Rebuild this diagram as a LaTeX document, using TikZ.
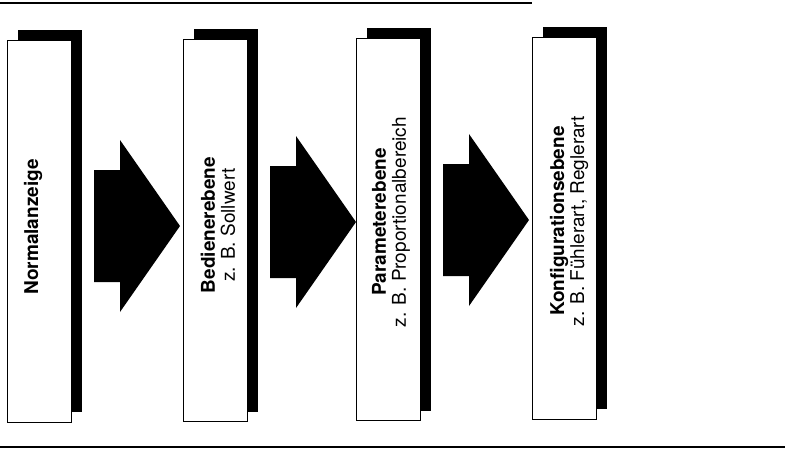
\documentclass[tikz,border=0pt]{standalone}
\usepackage{fontspec}
\setmainfont{TeX Gyre Heros}
\usetikzlibrary{backgrounds}
\begin{document}
\begin{tikzpicture}[x=1pt,y=-1pt,
  levelbox/.style={draw=black,line width=0.8pt,fill=white,minimum width=64pt,minimum height=382pt,inner sep=0pt},
  shadowfill/.style={fill=black},
  leveltext/.style={rotate=90,align=center,inner sep=0pt,font=\fontsize{19}{20}\selectfont},
  rule/.style={line width=1.5pt},
  blockarrow/.style={fill=black}]
\useasboundingbox (0,0) rectangle (785,453);
% rules
\coordinate (tl) at (0,3);
\coordinate (tr) at (532,3);
\coordinate (bl) at (0,447);
\coordinate (br) at (785,447);
\draw[rule] (tl) -- (tr);
\draw[rule] (bl) -- (br);
% boxes
\node[levelbox] (b1) at (39,231) {};
\node[levelbox] (b2) at (215,230.5) {};
\node[levelbox] (b3) at (388,229.5) {};
\node[levelbox] (b4) at (564,228) {};
\begin{scope}[on background layer]
  \foreach \b in {b1,b2,b3,b4}{
    \fill[shadowfill] ([shift={(11,-10)}]\b.south west) rectangle ([shift={(11,-10)}]\b.north east);
  }
\end{scope}
% texts
\node[leveltext] (t1) at (33,227) {\textbf{Normalanzeige}};
\node[leveltext] (t2) at (218,225) {\textbf{Bedienerebene}\\z. B. Sollwert};
\node[leveltext] (t3) at (391,222) {\textbf{Parameterebene}\\z. B. Proportionalbereich};
\node[leveltext] (t4) at (569,221) {\textbf{Konfigurationsebene}\\z. B. Fühlerart, Reglerart};
% block arrows
\foreach \x/\y in {94/226,270/222,443/220}{
  \fill[blockarrow] (\x,\y-56) -- (\x+26,\y-56) -- (\x+26,\y-86) -- (\x+86,\y)
    -- (\x+26,\y+86) -- (\x+26,\y+56) -- (\x,\y+56) -- cycle;
}
\end{tikzpicture}
\end{document}
